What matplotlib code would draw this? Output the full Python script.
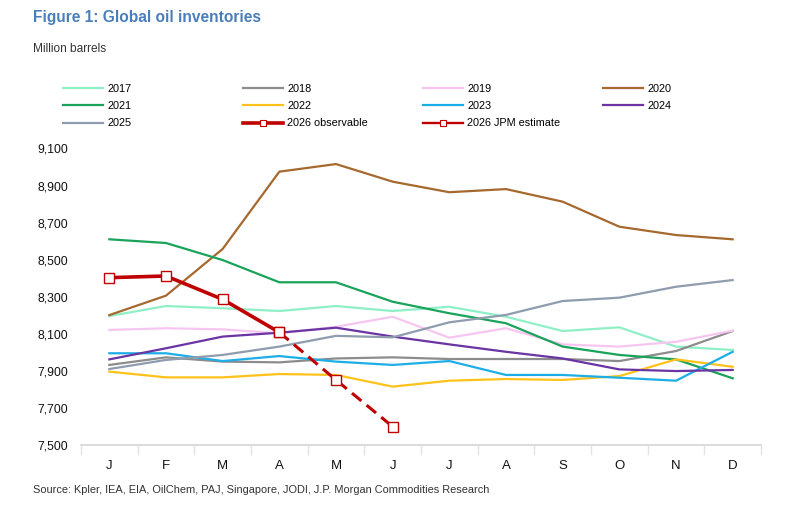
import matplotlib
matplotlib.use("Agg")
import matplotlib.pyplot as plt
from matplotlib.lines import Line2D
from matplotlib.ticker import FixedLocator, FuncFormatter

plt.rcParams['font.family'] = ['Liberation Sans', 'DejaVu Sans']

months = ["J", "F", "M", "A", "M", "J", "J", "A", "S", "O", "N", "D"]

y2017 = [8196, 8250, 8238, 8223, 8250, 8223, 8246, 8192, 8115, 8135, 8031, 8013]
y2018 = [7932, 7973, 7950, 7946, 7967, 7973, 7964, 7964, 7964, 7953, 8007, 8115]
y2019 = [8121, 8130, 8124, 8103, 8138, 8192, 8079, 8130, 8043, 8031, 8057, 8117]
y2020 = [8201, 8306, 8558, 8975, 9016, 8921, 8864, 8881, 8813, 8678, 8633, 8610]
y2021 = [8610, 8590, 8498, 8378, 8378, 8273, 8211, 8157, 8031, 7986, 7962, 7860]
y2022 = [7896, 7865, 7865, 7883, 7878, 7815, 7847, 7856, 7851, 7872, 7962, 7922]
y2023 = [7995, 7995, 7953, 7980, 7950, 7932, 7953, 7878, 7878, 7863, 7847, 8003]
y2024 = [7962, 8022, 8085, 8106, 8133, 8085, 8043, 8003, 7967, 7908, 7899, 7905]
y2025 = [7910, 7959, 7986, 8031, 8089, 8081, 8162, 8202, 8277, 8295, 8354, 8390]
y2026_obs = [8403, 8412, 8286, 8108]
y2026_est = [8108, 7851, 7599]  # Apr, May, Jun

yticks = [7500, 7700, 7900, 8100, 8300, 8500, 8700, 8900, 9100]

series = [
    ("2017", y2017, "#8ff0c8"),
    ("2018", y2018, "#8c8c8c"),
    ("2019", y2019, "#f7c6f0"),
    ("2020", y2020, "#a5692f"),
    ("2021", y2021, "#1aa35a"),
    ("2022", y2022, "#ffc21a"),
    ("2023", y2023, "#1eaee6"),
    ("2024", y2024, "#6a35a3"),
    ("2025", y2025, "#8e9cae"),
]
red = "#c00000"

fig = plt.figure(figsize=(7.92, 5.07), dpi=100)
ax = fig.add_axes([81 / 792, 1 - 445 / 507, 680 / 792, (445 - 148.5) / 507])

x = list(range(len(months)))
handles = {}
for name, vals, col in series:
    handles[name], = ax.plot(x, vals, color=col, lw=1.6, label=name)

ax.plot(x[:len(y2026_obs)], y2026_obs, color=red, lw=2.6, marker="s", ms=6.5,
        mfc="white", mec=red, mew=1.0, zorder=5)
ax.plot(x[3:3 + len(y2026_est)], y2026_est, color=red, lw=2.2, ls=(0, (4, 2.2)),
        marker="s", ms=6.5, mfc="white", mec=red, mew=1.0, zorder=4)

# legend proxies for the 2026 lines (solid, small marker, as in the source)
handles["2026 observable"] = Line2D([], [], color=red, lw=2.6, marker="s", ms=4.5,
                                    mfc="white", mec=red, mew=0.8)
handles["2026 JPM estimate"] = Line2D([], [], color=red, lw=1.7, marker="s", ms=4.5,
                                      mfc="white", mec=red, mew=0.8)

ax.set_xlim(-0.5, 11.5)
ax.set_ylim(7500, 9100)
ax.yaxis.set_major_locator(FixedLocator(yticks))
ax.yaxis.set_major_formatter(FuncFormatter(lambda v, p: f"{int(v):,}"))
ax.set_xticks(x)
ax.set_xticklabels(months)
ax.xaxis.set_minor_locator(FixedLocator([i - 0.5 for i in range(13)]))

for s in ["top", "right", "left"]:
    ax.spines[s].set_visible(False)
ax.spines["bottom"].set_color("#d9d9d9")
ax.spines["bottom"].set_linewidth(1.3)
ax.tick_params(axis="y", length=0, pad=9, labelsize=8.8, labelcolor="#111111")
ax.tick_params(axis="x", which="major", length=0, pad=11, labelsize=9.5, labelcolor="#111111")
ax.tick_params(axis="x", which="minor", length=7, width=1, color="#e3e3e3")

# legend in four columns, filled row by row
cols = [
    ["2017", "2021", "2025"],
    ["2018", "2022", "2026 observable"],
    ["2019", "2023", "2026 JPM estimate"],
    ["2020", "2024"],
]
col_x = [63, 243, 423, 603]
for cx, names in zip(col_x, cols):
    fig.legend([handles[n] for n in names], names, loc="upper left",
               bbox_to_anchor=(cx / 792, 1 - 84 / 507), frameon=False,
               fontsize=7.8, handlelength=3.7, handletextpad=0.37,
               labelspacing=0.66, borderpad=0, borderaxespad=0)

fig.text(33 / 792, 1 - 17.5 / 507, "Figure 1: Global oil inventories",
         fontsize=11.2, fontweight="bold", color="#4a7ebb", va="center", ha="left")
fig.text(33 / 792, 1 - 49 / 507, "Million barrels", fontsize=8.6,
         color="#333333", va="center", ha="left")
fig.text(33 / 792, 1 - 490 / 507,
         "Source: Kpler, IEA, EIA, OilChem, PAJ, Singapore, JODI, J.P. Morgan Commodities Research",
         fontsize=7.9, color="#333333", va="center", ha="left")

fig.savefig("out.png", dpi=100)
